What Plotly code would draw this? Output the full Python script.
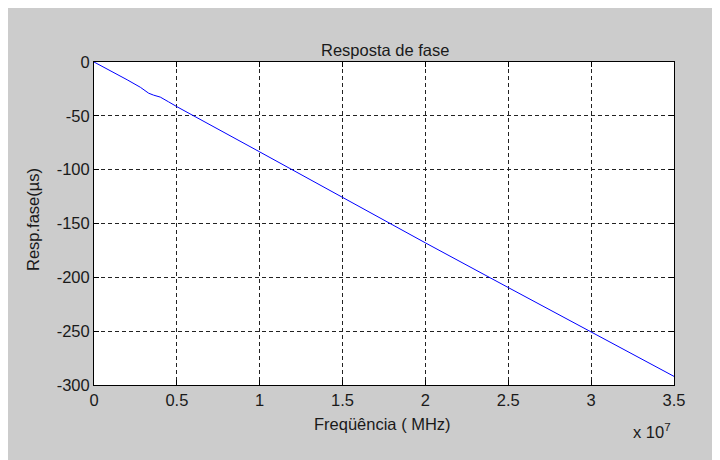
import plotly.graph_objects as go

# Data (frequency in Hz, phase response)
freq = [0, 0.1e7, 0.2e7, 0.28e7, 0.33e7, 0.36e7, 0.40e7, 0.45e7, 0.5e7,
        1.0e7, 1.5e7, 1.78e7, 2.0e7, 2.5e7, 3.0e7, 3.5e7]
phase = [0, -8, -16.5, -23.5, -29, -30.8, -32.6, -37, -41.5,
         -83.5, -126, -150, -168, -209.5, -251, -292]

x_ticks = [0, 0.5e7, 1e7, 1.5e7, 2e7, 2.5e7, 3e7, 3.5e7]
x_tick_labels = ["0", "0.5", "1", "1.5", "2", "2.5", "3", "3.5"]
y_ticks = [0, -50, -100, -150, -200, -250, -300]
y_tick_labels = ["0", "-50", "-100", "-150", "-200", "-250", "-300"]

title_text = "Resposta de fase"
x_label = "Freqüência ( MHz)"
y_label = "Resp.fase(µs)"
exp_label = "x 10<sup>7</sup>"

FONT = "Liberation Sans, Arial, sans-serif"
FS = 16.5
TXT = "#1a1a1a"
OFF = 8  # page body margin offset
W, H = 720 - OFF, 460 - OFF
L, T = 94 - OFF, 62 - OFF
pw, ph = 580, 323
R = W - L - pw
B = H - T - ph

def px(xp):
    return (xp - OFF - L) / pw

def py(yp):
    return (H - B - (yp - OFF)) / ph

fig = go.Figure()
fig.add_trace(go.Scatter(x=freq, y=phase, mode="lines",
                         line=dict(color="#0000ff", width=1),
                         showlegend=False, hoverinfo="skip"))

axis_common = dict(
    showline=True, linecolor="#000000", linewidth=1, mirror="ticks",
    ticks="inside", ticklen=5, tickcolor="#000000", tickwidth=1,
    showgrid=True, gridcolor="#222222", gridwidth=1, griddash="4px,3px",
    zeroline=False, tickfont=dict(family=FONT, size=FS, color=TXT),
)

fig.update_layout(
    width=W, height=H,
    margin=dict(l=L, r=R, t=T, b=B, pad=0),
    paper_bgcolor="#cccccc", plot_bgcolor="#ffffff",
    font=dict(family=FONT, size=FS, color=TXT),
    xaxis=dict(range=[0, 3.5e7], tickvals=x_ticks, ticktext=x_tick_labels,
               automargin=False, **axis_common),
    yaxis=dict(range=[-300, 0], tickvals=y_ticks, ticktext=y_tick_labels,
               automargin=False, **axis_common),
    annotations=[
        dict(text=title_text, xref="paper", yref="paper",
             x=px(385), y=py(50), showarrow=False, xanchor="center",
             yanchor="middle", font=dict(family=FONT, size=FS, color=TXT)),
        dict(text=x_label, xref="paper", yref="paper",
             x=px(382), y=py(424), showarrow=False, xanchor="center",
             yanchor="middle", font=dict(family=FONT, size=FS, color=TXT)),
        dict(text=y_label, xref="paper", yref="paper",
             x=px(33), y=py(220), showarrow=False, xanchor="center",
             yanchor="middle", textangle=-90,
             font=dict(family=FONT, size=FS, color=TXT)),
        dict(text=exp_label, xref="paper", yref="paper",
             x=px(652), y=py(431), showarrow=False, xanchor="center",
             yanchor="middle", font=dict(family=FONT, size=FS, color=TXT)),
    ],
)

fig.write_html("out.html")
